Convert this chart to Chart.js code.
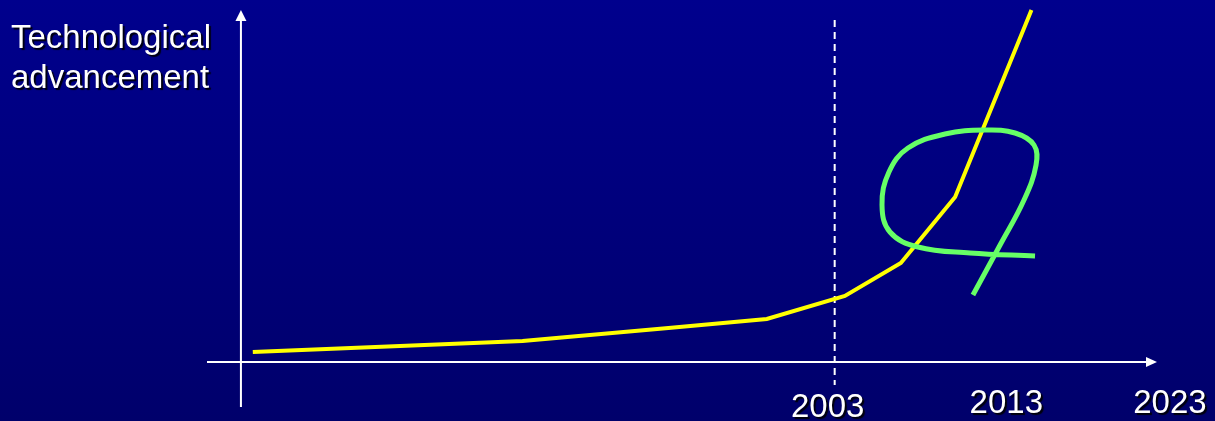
<!DOCTYPE html>
<html>
<head>
<meta charset="utf-8">
<script src="https://cdn.jsdelivr.net/npm/chart.js@4"></script>
<style>
  html, body {
    margin: 0;
    padding: 0;
    width: 1215px;
    height: 421px;
    overflow: hidden;
    background: linear-gradient(to bottom, #00008d, #00006b);
  }
  #wrap { width: 1215px; height: 421px; position: relative; }
</style>
</head>
<body>
<div id="wrap"><canvas id="chart"></canvas></div>
<script>
// x in years, y in arbitrary "advancement" units (0 at the x axis)
const yellowYears = [1968.7, 1984.6, 1993.2, 1999.0, 2003.6, 2006.9, 2010.1, 2014.6];
const yellowLevel = [10, 21, 34, 43, 66, 99, 165, 352];

// the green loop, in drawing order
const greenYears = [2011.15, 2012.75, 2014.16, 2014.87, 2014.75, 2013.63, 2011.86, 2009.50,
  2007.32, 2006.20, 2005.79, 2006.26, 2007.91, 2010.98, 2014.81];
const greenLevel = [67, 117, 162, 197, 217, 229, 232, 228,
  214, 190, 157, 130, 115, 109, 106];

const yearLabels = [2003, 2013, 2023];
const markerYear = 2003;
const originYear = 1968;
const axisTitle = ["Technological", "advancement"];

const toPoints = (xs, ys) => xs.map((x, i) => ({ x: x, y: ys[i] }));

// white axes with arrow heads, dashed marker, texts
const decorations = {
  id: 'decorations',
  beforeDatasetsDraw(chart) {
    const { ctx, chartArea, scales } = chart;
    const x = scales.x, y = scales.y;
    const ox = x.getPixelForValue(originYear);
    const oy = y.getPixelForValue(0);
    ctx.save();
    ctx.strokeStyle = '#ffffff';
    ctx.fillStyle = '#ffffff';
    ctx.lineWidth = 2;

    // x axis
    ctx.beginPath();
    ctx.moveTo(chartArea.left, oy);
    ctx.lineTo(chartArea.right - 8, oy);
    ctx.stroke();
    ctx.beginPath();
    ctx.moveTo(chartArea.right, oy);
    ctx.lineTo(chartArea.right - 11, oy - 5);
    ctx.lineTo(chartArea.right - 11, oy + 5);
    ctx.closePath();
    ctx.fill();

    // y axis
    ctx.beginPath();
    ctx.moveTo(ox, oy + 45);
    ctx.lineTo(ox, chartArea.top + 8);
    ctx.stroke();
    ctx.beginPath();
    ctx.moveTo(ox, chartArea.top);
    ctx.lineTo(ox - 5.5, chartArea.top + 11);
    ctx.lineTo(ox + 5.5, chartArea.top + 11);
    ctx.closePath();
    ctx.fill();

    // dashed marker
    const mx = x.getPixelForValue(markerYear);
    ctx.setLineDash([7, 5]);
    ctx.beginPath();
    ctx.moveTo(mx, chartArea.top + 10);
    ctx.lineTo(mx, oy + 23);
    ctx.stroke();
    ctx.setLineDash([]);

    // texts with a drop shadow
    ctx.font = '33px "Liberation Sans", Arial, sans-serif';
    ctx.shadowColor = 'rgba(0,0,0,0.9)';
    ctx.shadowOffsetX = 2;
    ctx.shadowOffsetY = 2;
    ctx.shadowBlur = 1;
    ctx.textBaseline = 'alphabetic';
    ctx.textAlign = 'left';
    axisTitle.forEach((t, i) => ctx.fillText(t, 11, 48 + i * 40));

    ctx.textAlign = 'center';
    yearLabels.forEach(yr => {
      let px = x.getPixelForValue(yr);
      if (yr === markerYear) px -= 7;
      if (yr === 2013) px += 2;
      if (yr === 2023) px -= 4;
      const base = oy + (yr === markerYear ? 55 : 51);
      ctx.fillText(String(yr), px, base);
    });
    ctx.restore();
  }
};

new Chart(document.getElementById('chart'), {
  type: 'line',
  data: {
    datasets: [
      {
        label: 'Green',
        data: toPoints(greenYears, greenLevel),
        borderColor: '#66ff66',
        borderWidth: 5,
        tension: 0.4,
        pointRadius: 0,
        fill: false,
        clip: false
      },
      {
        label: 'Yellow',
        data: toPoints(yellowYears, yellowLevel),
        borderColor: '#ffff00',
        borderWidth: 4,
        tension: 0,
        pointRadius: 0,
        fill: false,
        clip: false
      }
    ]
  },
  options: {
    responsive: true,
    maintainAspectRatio: false,
    animation: false,
    layout: { padding: { left: 207, right: 58, top: 10, bottom: 59 } },
    plugins: {
      legend: { display: false },
      tooltip: { enabled: false }
    },
    scales: {
      x: { type: 'linear', min: 1966, max: 2022, display: false },
      y: { type: 'linear', min: 0, max: 352, display: false }
    }
  },
  plugins: [decorations]
});
</script>
</body>
</html>
